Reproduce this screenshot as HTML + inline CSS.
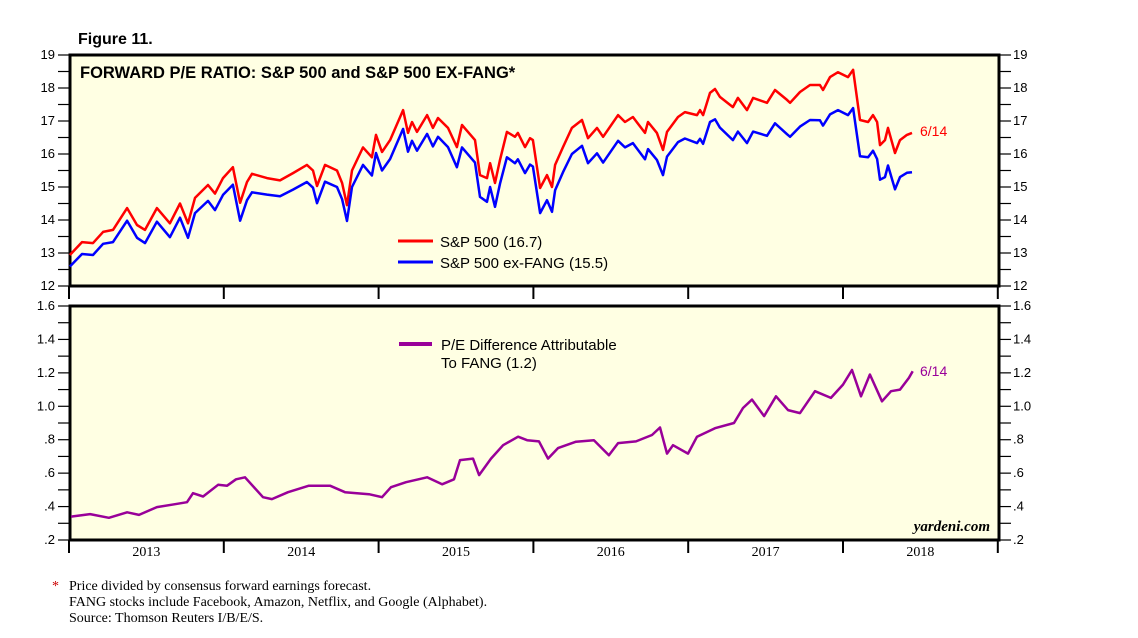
<!DOCTYPE html>
<html><head><meta charset="utf-8"><style>
html,body{margin:0;padding:0;background:#fff;}
svg{display:block;}
.sans{font-family:"Liberation Sans",sans-serif;}
.serif{font-family:"Liberation Serif",serif;}
</style></head><body>
<svg id="chart" width="1138" height="638" viewBox="0 0 1138 638" xmlns="http://www.w3.org/2000/svg">
<text x="78" y="44" class="sans" font-size="16" font-weight="bold">Figure 11.</text>
<rect x="70" y="55" width="929" height="231" fill="#FFFFE3" stroke="#000" stroke-width="3"/>
<rect x="70" y="306" width="929" height="234" fill="#FFFFE3" stroke="#000" stroke-width="3"/>
<text x="80" y="78" class="sans" font-size="16.5" font-weight="bold">FORWARD P/E RATIO: S&amp;P 500 and S&amp;P 500 EX-FANG*</text>
<g id="axes"></g>
<g id="series"></g>
<line x1="398" y1="241" x2="433" y2="241" stroke="#f00" stroke-width="3"/>
<text x="440" y="247" class="sans" font-size="15">S&amp;P 500 (16.7)</text>
<line x1="398" y1="262" x2="433" y2="262" stroke="#00f" stroke-width="3"/>
<text x="440" y="268" class="sans" font-size="15">S&amp;P 500 ex-FANG (15.5)</text>
<line x1="399" y1="344" x2="432" y2="344" stroke="#909" stroke-width="4"/>
<text x="441" y="350" class="sans" font-size="15">P/E Difference Attributable</text>
<text x="441" y="368" class="sans" font-size="15">To FANG (1.2)</text>
<text x="920" y="136" class="sans" font-size="14" fill="#f00">6/14</text>
<text x="920" y="376" class="sans" font-size="14" fill="#909">6/14</text>
<text x="990" y="531" class="serif" font-size="15" font-style="italic" font-weight="bold" text-anchor="end">yardeni.com</text>
<text x="52" y="590" class="serif" font-size="14" fill="#c00">*</text>
<text x="69" y="590" class="serif" font-size="14">Price divided by consensus forward earnings forecast.</text>
<text x="69" y="606" class="serif" font-size="14">FANG stocks include Facebook, Amazon, Netflix, and Google (Alphabet).</text>
<text x="69" y="622" class="serif" font-size="14">Source: Thomson Reuters I/B/E/S.</text>
</svg>
<script>
const redDates=[2013.006,2013.084,2013.155,2013.22,2013.284,2013.375,2013.439,2013.491,2013.568,2013.652,2013.717,2013.769,2013.814,2013.898,2013.943,2013.995,2014.059,2014.105,2014.15,2014.182,2014.279,2014.363,2014.447,2014.537,2014.576,2014.602,2014.654,2014.731,2014.764,2014.796,2014.828,2014.899,2014.957,2014.983,2015.022,2015.074,2015.158,2015.19,2015.216,2015.248,2015.313,2015.351,2015.384,2015.448,2015.506,2015.539,2015.623,2015.655,2015.7,2015.72,2015.752,2015.784,2015.829,2015.881,2015.9,2015.946,2015.978,2015.997,2016.043,2016.088,2016.12,2016.14,2016.191,2016.249,2016.314,2016.353,2016.411,2016.45,2016.547,2016.592,2016.643,2016.721,2016.74,2016.798,2016.837,2016.863,2016.934,2016.979,2017.057,2017.076,2017.096,2017.141,2017.173,2017.205,2017.289,2017.321,2017.38,2017.419,2017.509,2017.561,2017.638,2017.658,2017.722,2017.787,2017.851,2017.871,2017.916,2017.968,2018.032,2018.065,2018.11,2018.162,2018.194,2018.22,2018.239,2018.271,2018.291,2018.336,2018.368,2018.413,2018.446];
const sp500=[12.94,13.33,13.3,13.64,13.7,14.36,13.85,13.7,14.36,13.9,14.5,13.9,14.67,15.06,14.8,15.27,15.6,14.52,15.15,15.4,15.27,15.2,15.42,15.67,15.5,15.03,15.67,15.5,15.12,14.45,15.5,16.2,15.9,16.58,16.06,16.42,17.33,16.64,16.97,16.67,17.18,16.79,17.09,16.79,16.21,16.88,16.42,15.36,15.27,15.72,15.12,15.82,16.67,16.52,16.64,16.21,16.48,16.42,14.97,15.36,15.0,15.67,16.21,16.79,17.03,16.48,16.79,16.52,17.18,16.97,17.12,16.64,16.97,16.64,16.12,16.67,17.12,17.27,17.18,17.33,17.18,17.85,17.97,17.73,17.42,17.7,17.33,17.7,17.55,17.94,17.64,17.55,17.88,18.09,18.09,17.94,18.33,18.48,18.33,18.55,17.03,16.97,17.18,16.97,16.27,16.42,16.79,16.03,16.42,16.58,16.64];
const exFang=[12.59,12.97,12.94,13.28,13.33,13.98,13.46,13.3,13.95,13.48,14.07,13.46,14.21,14.58,14.3,14.76,15.07,13.98,14.6,14.84,14.77,14.72,14.92,15.15,14.98,14.51,15.16,15.0,14.63,13.97,15.0,15.67,15.35,16.03,15.5,15.85,16.76,16.07,16.4,16.1,16.61,16.23,16.52,16.21,15.6,16.2,15.74,14.7,14.55,15.0,14.4,15.1,15.9,15.72,15.84,15.42,15.68,15.62,14.21,14.6,14.25,14.9,15.45,16.0,16.25,15.72,16.02,15.74,16.4,16.2,16.33,15.84,16.15,15.82,15.36,15.92,16.36,16.47,16.33,16.46,16.31,16.97,17.05,16.8,16.42,16.68,16.33,16.68,16.55,16.93,16.6,16.52,16.83,17.03,17.02,16.86,17.2,17.33,17.18,17.39,15.93,15.9,16.1,15.85,15.22,15.3,15.65,14.93,15.3,15.43,15.45];
const diffDates=[2013.013,2013.136,2013.258,2013.375,2013.452,2013.568,2013.685,2013.762,2013.801,2013.866,2013.963,2014.021,2014.079,2014.137,2014.253,2014.311,2014.415,2014.55,2014.686,2014.783,2014.938,2015.022,2015.08,2015.177,2015.313,2015.41,2015.487,2015.526,2015.61,2015.649,2015.726,2015.804,2015.901,2015.959,2016.036,2016.094,2016.159,2016.275,2016.391,2016.488,2016.547,2016.663,2016.766,2016.818,2016.863,2016.902,2016.999,2017.057,2017.173,2017.296,2017.354,2017.412,2017.49,2017.567,2017.645,2017.722,2017.819,2017.922,2018.0,2018.058,2018.116,2018.174,2018.252,2018.31,2018.368,2018.426,2018.45];
const fangDiff=[0.34,0.355,0.333,0.366,0.35,0.397,0.414,0.426,0.48,0.46,0.53,0.525,0.563,0.575,0.456,0.445,0.486,0.525,0.525,0.486,0.474,0.456,0.516,0.546,0.575,0.533,0.563,0.678,0.687,0.588,0.687,0.767,0.818,0.797,0.79,0.687,0.75,0.788,0.797,0.707,0.78,0.79,0.828,0.873,0.717,0.767,0.717,0.818,0.869,0.9,0.99,1.04,0.941,1.06,0.977,0.959,1.09,1.05,1.13,1.217,1.06,1.19,1.03,1.09,1.10,1.17,1.21];
const topTicks=[12,13,14,15,16,17,18,19];
const bottomTicks=[0.2,0.4,0.6,0.8,1.0,1.2,1.4,1.6];
const bottomTickLabels=[".2",".4",".6",".8","1.0","1.2","1.4","1.6"];
const years=[2013,2014,2015,2016,2017,2018];

const NS="http://www.w3.org/2000/svg";
const xS=t=>69+(t-2013)*154.8;
const yTop=v=>286-(v-12)*(231/7);
const yBot=v=>540-(v-0.2)*(234/1.4);
const axes=document.getElementById('axes');
const series=document.getElementById('series');
function mk(tag,attrs,parent){const e=document.createElementNS(NS,tag);for(const k in attrs)e.setAttribute(k,attrs[k]);parent.appendChild(e);return e;}

for(let v=12;v<=19.001;v+=0.5){
  const y=yTop(v);
  const tl=mk('line',{x1:58,y1:y,x2:70,y2:y,stroke:'#000','stroke-width':1.2},axes);
  
  
  const tr=mk('line',{x1:999,y1:y,x2:1011,y2:y,stroke:'#000','stroke-width':1.2},axes);
  
  
}
topTicks.forEach(v=>{
  const y=yTop(v);
  const a=mk('text',{x:55,y:y+4,'text-anchor':'end','font-size':13,class:'sans'},axes);a.textContent=v;
  
  
  const b=mk('text',{x:1013,y:y+4,'font-size':13,class:'sans'},axes);b.textContent=v;
  
  
});
for(let v=0.2;v<=1.601;v+=0.1){
  const y=yBot(v);
  const tl=mk('line',{x1:58,y1:y,x2:70,y2:y,stroke:'#000','stroke-width':1.2},axes);
  
  
  const tr=mk('line',{x1:999,y1:y,x2:1011,y2:y,stroke:'#000','stroke-width':1.2},axes);
  
  
}
bottomTicks.forEach((v,i)=>{
  const y=yBot(v);
  const a=mk('text',{x:55,y:y+4,'text-anchor':'end','font-size':13,class:'sans'},axes);a.textContent=bottomTickLabels[i];
  
  
  const b=mk('text',{x:1013,y:y+4,'font-size':13,class:'sans'},axes);b.textContent=bottomTickLabels[i];
  
  
});
for(let yr=2013;yr<=2019;yr++){
  const x=xS(yr);
  const t1=mk('line',{x1:x,y1:286,x2:x,y2:299,stroke:'#000','stroke-width':2},axes);
  
  
  const t2=mk('line',{x1:x,y1:540,x2:x,y2:553,stroke:'#000','stroke-width':2},axes);
  
  
}
years.forEach(yr=>{
  const t=mk('text',{x:xS(yr+0.5),y:556,'text-anchor':'middle','font-size':14,class:'serif'},axes);t.textContent=yr;
  
  
});
function line(xs,ys,yf,color,w,name){
  const d=xs.map((t,i)=>(i?'L':'M')+xS(t).toFixed(1)+','+yf(ys[i]).toFixed(1)).join('');
  const p=mk('path',{d:d,fill:'none',stroke:color,'stroke-width':w,'stroke-linejoin':'round'},series);
  
  
}
line(redDates,sp500,yTop,'#f00',2.5,'sp500-line');
line(redDates,exFang,yTop,'#00f',2.5,'sp500-ex-fang-line');
line(diffDates,fangDiff,yBot,'#909',2.5,'fang-difference-line');
</script>
</body></html>
